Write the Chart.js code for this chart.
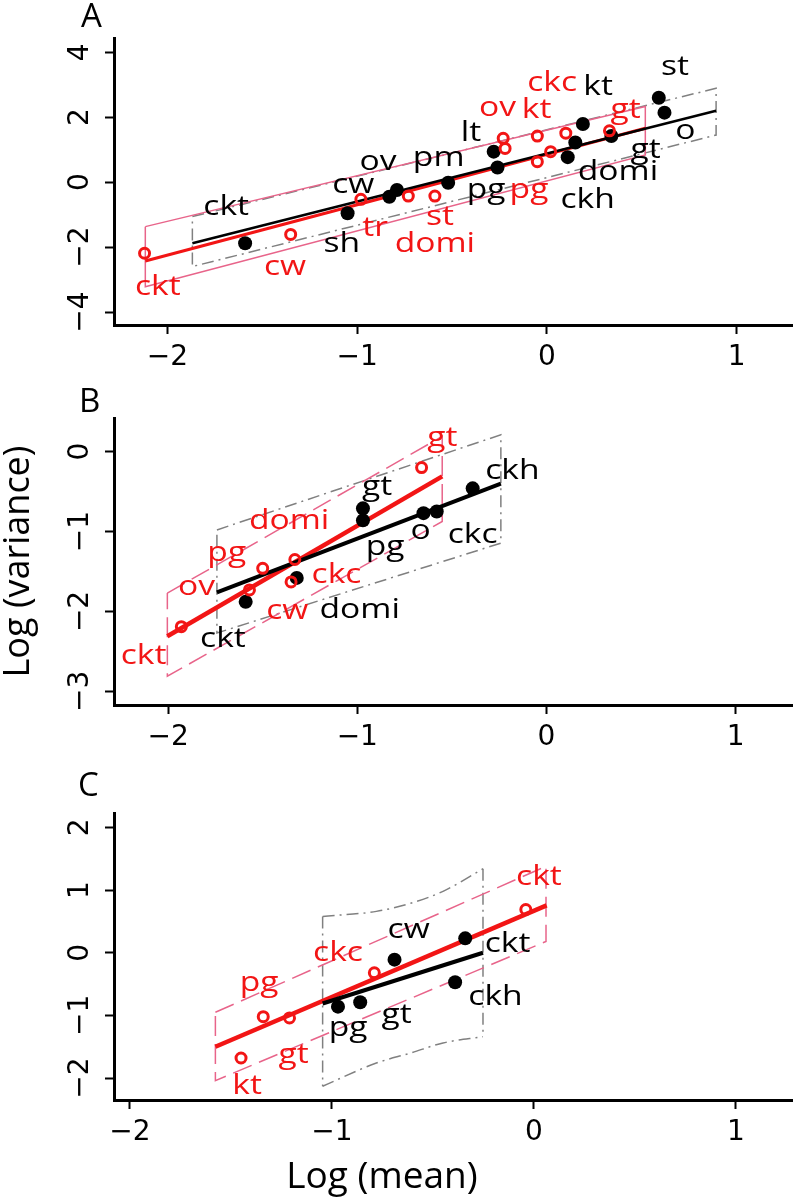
<!DOCTYPE html>
<html><head><meta charset="utf-8">
<script src="https://cdn.jsdelivr.net/npm/chart.js@4.4.1/dist/chart.umd.min.js"></script>
<style>
html,body{margin:0;padding:0;background:#fff;}
#wrap{position:relative;width:800px;height:1197px;overflow:hidden;font-family:'Open Sans',sans-serif;color:#000;}
.pane{position:absolute;left:0;width:800px;}
.pane canvas{display:block;}
.letter{position:absolute;font-size:33px;line-height:33px;}
#xtitle{position:absolute;left:0;width:764px;text-align:center;top:1155px;font-size:37px;line-height:37px;}
</style></head>
<body><div id="wrap">
<div class="pane" style="top:0;height:380px"><canvas id="cA" width="800" height="380"></canvas></div>
<div class="pane" style="top:380px;height:380px"><canvas id="cB" width="800" height="380"></canvas></div>
<div class="pane" style="top:760px;height:437px"><canvas id="cC" width="800" height="437"></canvas></div>
<div class="letter" style="left:81px;top:-2px">A</div>
<div class="letter" style="left:79px;top:383px">B</div>
<div class="letter" style="left:78px;top:767px">C</div>
<div id="xtitle">Log (mean)</div>
</div>
<script>
// ---------- Panel A data ----------
const aBlackX = [-1.59,-1.05,-0.83,-0.79,-0.52,-0.28,-0.26,0.11,0.15,0.19,0.34,0.59,0.62];
const aBlackY = [-1.88,-0.96,-0.45,-0.24,-0.02,0.94,0.45,0.77,1.22,1.79,1.42,2.60,2.14];
const aRedX = [-2.12,-1.35,-0.98,-0.73,-0.59,-0.23,-0.22,-0.05,-0.05,0.02,0.10,0.33];
const aRedY = [-2.19,-1.61,-0.53,-0.43,-0.43,1.35,1.04,1.42,0.63,0.94,1.51,1.58];
const aBlackFitX = [-1.868,0.892], aBlackFitY = [-1.88,2.20];
const aRedFitX = [-2.116,0.519], aRedFitY = [-2.43,1.66];
const aPinkX = [-2.116,0.519,0.519,-2.116,-2.116], aPinkY = [-1.37,2.33,0.84,-3.22,-1.37];
const aGrayX = [-1.868,0.892,0.892,-1.868,-1.868], aGrayY = [-1.06,2.89,1.45,-2.60,-1.06];
const aBlackLab = ['ckt','sh','cw','ov','pm','lt','pg','kt','gt','domi','ckh','st','o'];
const aBlackLabX = [-1.69,-1.08,-1.02,-0.89,-0.57,-0.40,-0.32,0.27,0.52,0.375,0.215,0.675,0.73];
const aBlackLabY = [-0.76,-1.90,-0.09,0.63,0.74,1.52,-0.24,2.92,0.99,0.32,-0.55,3.54,1.56];
const aRedLab = ['ckt','cw','tr','st','domi','pg','ov','kt','ckc','gt'];
const aRedLabX = [-2.05,-1.38,-0.905,-0.5625,-0.59,-0.094,-0.26,-0.054,0.028,0.415];
const aRedLabY = [-3.22,-2.60,-1.42,-1.08,-1.90,-0.24,2.28,2.22,3.05,2.22];
const aYTicks = [-4,-2,0,2,4];

// ---------- Panel B data ----------
const bBlackX = [-1.59,-1.32,-0.97,-0.97,-0.65,-0.58,-0.39];
const bBlackY = [-1.88,-1.58,-0.71,-0.86,-0.77,-0.75,-0.46];
const bRedX = [-1.93,-1.57,-1.50,-1.35,-1.33,-0.66];
const bRedY = [-2.19,-1.73,-1.46,-1.63,-1.35,-0.20];
const bBlackFitX = [-1.742,-0.241], bBlackFitY = [-1.76,-0.40];
const bRedFitX = [-2.004,-0.551], bRedFitY = [-2.31,-0.31];
const bPinkX = [-2.004,-0.551,-0.551,-2.004,-2.004], bPinkY = [-1.77,0.19,-0.875,-2.81,-1.77];
const bGrayX = [-1.742,-0.241,-0.241,-1.742,-1.742], bGrayY = [-0.98,0.21,-1.145,-2.27,-0.98];
const bRedLab = ['gt','domi','pg','ov','ckc','cw','ckt'];
const bRedLabX = [-0.55,-1.36,-1.69,-1.85,-1.11,-1.37,-2.13];
const bRedLabY = [0.17,-0.875,-1.27,-1.69,-1.55,-2.0,-2.56];
const bBlackLab = ['gt','pg','o','ckc','ckh','ckt','domi'];
const bBlackLabX = [-0.895,-0.853,-0.665,-0.39,-0.18,-1.71,-0.987];
const bBlackLabY = [-0.445,-1.19,-0.99,-1.05,-0.24,-2.34,-1.98];
const bYTicks = [-3,-2,-1,0];

// ---------- Panel C data ----------
const cBlackX = [-0.97,-0.86,-0.69,-0.34,-0.39];
const cBlackY = [-0.86,-0.79,-0.11,0.23,-0.47];
const cRedX = [-1.45,-1.34,-1.21,-0.79,-0.04];
const cRedY = [-1.68,-1.02,-1.04,-0.32,0.69];
const cBlackFitX = [-1.046,-0.252], cBlackFitY = [-0.81,0.0];
const cRedFitX = [-1.577,0.063], cRedFitY = [-1.50,0.755];
const cPinkX = [-1.577,0.06,0.06,-1.577,-1.577], cPinkY = [-0.95,1.38,0.18,-2.04,-0.95];
const cGrayTopX = [-1.046,-0.78,-0.61,-0.45,-0.252], cGrayTopY = [0.58,0.66,0.79,0.98,1.34];
const cGrayBotX = [-1.046,-0.78,-0.61,-0.45,-0.252], cGrayBotY = [-2.13,-1.76,-1.60,-1.44,-1.34];
const cRedLab = ['pg','ckc','gt','kt','ckt'];
const cRedLabX = [-1.36,-0.97,-1.19,-1.42,0.025];
const cRedLabY = [-0.48,0.0,-1.63,-2.12,1.21];
const cBlackLab = ['pg','gt','cw','ckt','ckh'];
const cBlackLabX = [-0.92,-0.68,-0.62,-0.13,-0.19];
const cBlackLabY = [-1.20,-0.99,0.36,0.14,-0.70];
const cYTicks = [-2,-1,0,1,2];

const xTickValues = [-2,-1,0,1];

// ---------- styles ----------
const RED = '#f21515', PINK = '#e8648a', GRAY = '#808080', BLACK = '#000';
const DASHDOT = [12,5,2,5], LONGDASH = [20,8];

const pts = (xs, ys) => xs.map((x, i) => ({x: x, y: ys[i]}));
const fmt = v => (v < 0 ? '\u2212' : '') + String(Math.abs(v));

const labelPlugin = {
  id: 'ptLabels',
  afterDatasetsDraw(chart, args, opts) {
    const ctx = chart.ctx, xs = chart.scales.x, ys = chart.scales.y;
    ctx.save();
    ctx.font = '28px "Open Sans"';
    ctx.textAlign = 'center';
    ctx.textBaseline = 'middle';
    (opts.groups || []).forEach(g => {
      ctx.fillStyle = g.color;
      g.text.forEach((t, i) => {
        const px = xs.getPixelForValue(g.x[i]), py = ys.getPixelForValue(g.y[i]);
        ctx.save(); ctx.translate(px, py); ctx.scale(1.2, 1); ctx.fillText(t, 0, 0); ctx.restore();
      });
    });
    ctx.restore();
  }
};

function blackPts(xs, ys) { return {data: pts(xs, ys), showLine: false, pointRadius: 7, pointBackgroundColor: BLACK, pointBorderColor: BLACK, pointBorderWidth: 0, order: 1}; }
function redPts(xs, ys) { return {data: pts(xs, ys), showLine: false, pointRadius: 5, pointBackgroundColor: 'rgba(0,0,0,0)', pointBorderColor: RED, pointBorderWidth: 3, order: 0}; }
function line(xs, ys, color, width, dash, order, curve) {
  const d = {data: pts(xs, ys), showLine: true, pointRadius: 0, borderColor: color, borderWidth: width, borderDash: dash || [], fill: false, tension: 0, order: order};
  if (curve) d.cubicInterpolationMode = 'monotone';
  return d;
}

function makeChart(id, datasets, groups, sc) {
  return new Chart(document.getElementById(id), {
    type: 'scatter',
    data: {datasets: datasets},
    plugins: [labelPlugin],
    options: {
      responsive: false, animation: false, devicePixelRatio: 1,
      layout: {padding: {top: sc.padTop, left: 0, right: 0, bottom: 0}},
      plugins: {legend: {display: false}, tooltip: {enabled: false}, ptLabels: {groups: groups}},
      scales: {
        x: {
          type: 'linear', min: sc.xmin, max: sc.xmax,
          afterFit: s => { s.height = sc.xH; },
          afterBuildTicks: s => { s.ticks = xTickValues.map(v => ({value: v})); },
          ticks: {font: {family: 'DejaVu Sans', size: 28}, color: BLACK, padding: 7, callback: fmt, maxRotation: 0, autoSkip: false},
          grid: {drawOnChartArea: false, drawTicks: true, tickLength: 9, tickWidth: 2, tickColor: BLACK},
          border: {display: true, color: BLACK, width: 3}
        },
        y: {
          type: 'linear', min: sc.ymin, max: sc.ymax,
          afterFit: s => { s.width = 114; },
          afterBuildTicks: s => { s.ticks = sc.yTicks.map(v => ({value: v})); },
          ticks: {font: {family: 'DejaVu Sans', size: 28}, color: BLACK, padding: 4, callback: fmt, minRotation: 90, maxRotation: 90, crossAlign: 'center', autoSkip: false},
          grid: {drawOnChartArea: false, drawTicks: true, tickLength: 9, tickWidth: 2, tickColor: BLACK},
          border: {display: true, color: BLACK, width: 3},
          title: sc.yTitle ? {display: true, text: sc.yTitle, color: BLACK, font: {family: 'Open Sans', size: 36, lineHeight: 1}, padding: {top: 1, bottom: 0}} : {display: false}
        }
      }
    }
  });
}

// Panel A
makeChart('cA', [
  redPts(aRedX, aRedY),
  blackPts(aBlackX, aBlackY),
  line(aBlackFitX, aBlackFitY, BLACK, 2.5, null, 2),
  line(aRedFitX, aRedFitY, RED, 3, null, 2),
  line(aPinkX, aPinkY, PINK, 1.5, null, 3),
  line(aGrayX, aGrayY, GRAY, 1.5, DASHDOT, 3)
], [
  {color: BLACK, text: aBlackLab, x: aBlackLabX, y: aBlackLabY},
  {color: RED, text: aRedLab, x: aRedLabX, y: aRedLabY}
], {padTop: 38, xH: 55, xmin: -2.281, xmax: 1.292, ymin: -4.40, ymax: 4.44, yTicks: aYTicks});

// Panel B
makeChart('cB', [
  redPts(bRedX, bRedY),
  blackPts(bBlackX, bBlackY),
  line(bBlackFitX, bBlackFitY, BLACK, 4, null, 2),
  line(bRedFitX, bRedFitY, RED, 4.5, null, 2),
  line(bPinkX, bPinkY, PINK, 1.5, LONGDASH, 3),
  line(bGrayX, bGrayY, GRAY, 1.5, DASHDOT, 3)
], [
  {color: RED, text: bRedLab, x: bRedLabX, y: bRedLabY},
  {color: BLACK, text: bBlackLab, x: bBlackLabX, y: bBlackLabY}
], {padTop: 38, xH: 55, xmin: -2.286, xmax: 1.298, ymin: -3.17, ymax: 0.42, yTicks: bYTicks, yTitle: 'Log (variance)'});

// Panel C
makeChart('cC', [
  redPts(cRedX, cRedY),
  blackPts(cBlackX, cBlackY),
  line(cBlackFitX, cBlackFitY, BLACK, 4, null, 2),
  line(cRedFitX, cRedFitY, RED, 4.5, null, 2),
  line(cPinkX, cPinkY, PINK, 1.5, LONGDASH, 3),
  line(cGrayTopX, cGrayTopY, GRAY, 1.5, DASHDOT, 3, true),
  line(cGrayBotX, cGrayBotY, GRAY, 1.5, DASHDOT, 3, true),
  line([cGrayTopX[0], cGrayBotX[0]], [cGrayTopY[0], cGrayBotY[0]], GRAY, 1.5, DASHDOT, 3),
  line([cGrayTopX[4], cGrayBotX[4]], [cGrayTopY[4], cGrayBotY[4]], GRAY, 1.5, DASHDOT, 3)
], [
  {color: RED, text: cRedLab, x: cRedLabX, y: cRedLabY},
  {color: BLACK, text: cBlackLab, x: cBlackLabX, y: cBlackLabY}
], {padTop: 53, xH: 97, xmin: -2.079, xmax: 1.278, ymin: -2.35, ymax: 2.23, yTicks: cYTicks});
</script>
</body></html>
